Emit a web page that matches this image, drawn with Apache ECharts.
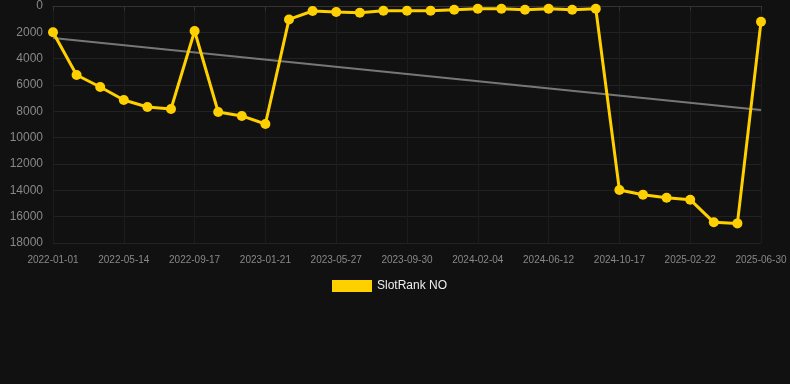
<!DOCTYPE html>
<html><head><meta charset="utf-8">
<script src="https://cdn.jsdelivr.net/npm/echarts@6/dist/echarts.min.js"></script>
<style>html,body{margin:0;padding:0;background:#111111;}#c{width:790px;height:384px;}</style>
</head><body><div id="c"></div>
<script>
var categories = ["2022-01-01","2022-02-19","2022-04-02","2022-05-14","2022-06-25","2022-08-06","2022-09-17","2022-10-29","2022-12-10","2023-01-21","2023-03-04","2023-04-15","2023-05-27","2023-07-08","2023-08-19","2023-09-30","2023-11-11","2023-12-23","2024-02-04","2024-03-17","2024-04-29","2024-06-12","2024-07-24","2024-09-04","2024-10-17","2024-11-28","2025-01-10","2025-02-22","2025-04-05","2025-05-17","2025-06-30"];
var rankValues = [2000,5240,6150,7140,7670,7820,1900,8050,8350,8960,1020,380,455,510,355,355,355,280,205,205,280,205,280,205,13970,14330,14560,14710,16430,16510,1190];
var trendValues = [2430,7900];
var yTicks = {min:0,max:18000,interval:2000};

var chart = echarts.init(document.getElementById('c'), null, {renderer:'canvas'});
chart.setOption({
  backgroundColor:'#111111',
  animation:false,
  grid:{left:53,right:29,top:6,bottom:141,containLabel:false},
  legend:{
    data:[{name:'SlotRank NO',icon:'rect'}],
    top:275,left:327,itemWidth:40,itemHeight:12,itemGap:10,
    textStyle:{color:'#eeeeee',fontSize:12,fontFamily:'Arial, Liberation Sans, sans-serif'}
  },
  xAxis:{
    type:'category',data:categories,boundaryGap:false,
    axisLine:{lineStyle:{color:'#333333'}},
    axisTick:{show:true,interval:2,lineStyle:{color:'#333333'}},
    axisLabel:{interval:2,color:'#888888',fontSize:10,margin:12,fontFamily:'Arial, Liberation Sans, sans-serif'},
    splitLine:{show:true,interval:2,lineStyle:{color:'#1c1c1c'}}
  },
  yAxis:{
    type:'value',inverse:true,min:yTicks.min,max:yTicks.max,interval:yTicks.interval,
    axisLine:{show:false},axisTick:{show:false},
    axisLabel:{color:'#888888',fontSize:12,margin:10,fontFamily:'Arial, Liberation Sans, sans-serif',
      formatter:function(v){return String(v);}},
    splitLine:{show:true,lineStyle:{color:'#222222'}}
  },
  series:[
    {name:'SlotRank NO',type:'line',data:rankValues,symbol:'circle',symbolSize:10,
     itemStyle:{color:'#ffd000'},lineStyle:{color:'#ffd000',width:3},z:3},
    {name:'Trend',type:'line',data:[[0,trendValues[0]],[categories.length-1,trendValues[1]]],
     symbol:'none',lineStyle:{color:'#777777',width:2},itemStyle:{color:'#777777'},z:2}
  ]
});
</script></body></html>
